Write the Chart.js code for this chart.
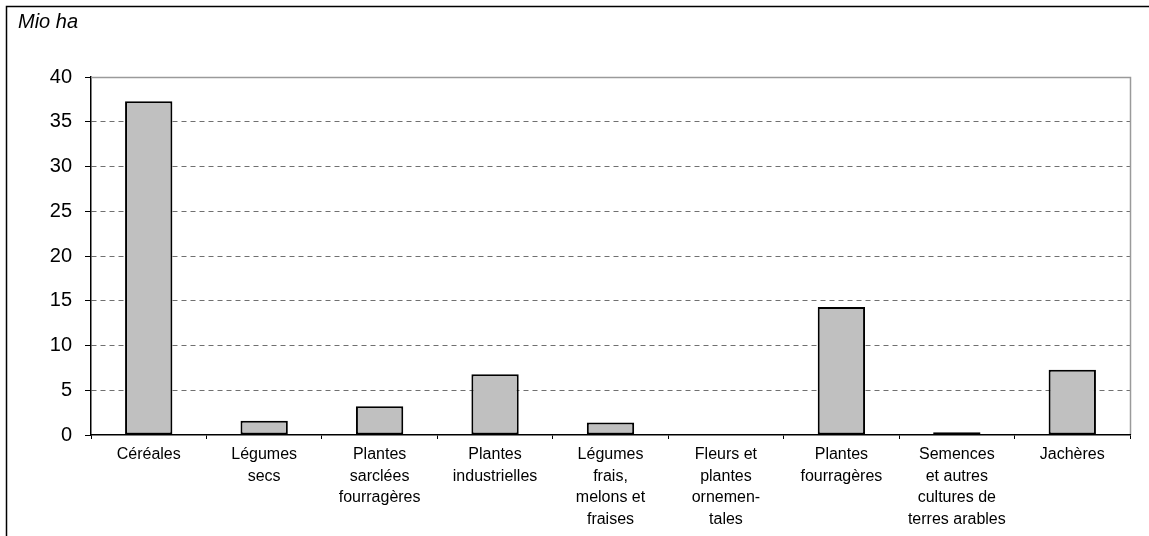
<!DOCTYPE html>
<html>
<head>
<meta charset="utf-8">
<script src="https://cdn.jsdelivr.net/npm/chart.js@4/dist/chart.umd.min.js"></script>
<style>
html,body{margin:0;padding:0;background:#fff;}
#wrap{width:1149px;height:536px;position:relative;}
</style>
</head>
<body>
<div id="wrap"><canvas id="c" width="1149" height="536"></canvas></div>
<script>
const categories = [
  ["Céréales"],
  ["Légumes", "secs"],
  ["Plantes", "sarclées", "fourragères"],
  ["Plantes", "industrielles"],
  ["Légumes", "frais,", "melons et", "fraises"],
  ["Fleurs et", "plantes", "ornemen-", "tales"],
  ["Plantes", "fourragères"],
  ["Semences", "et autres", "cultures de", "terres arables"],
  ["Jachères"]
];
const values = [37.3, 1.6, 3.2, 6.8, 1.4, 0, 14.3, 0.3, 7.3];
const yTicks = [0, 5, 10, 15, 20, 25, 30, 35, 40];
const unitLabel = "Mio ha";

const framePlugin = {
  id: 'frame',
  beforeDraw(chart) {
    const ctx = chart.ctx;
    ctx.save();
    ctx.fillStyle = '#fff';
    ctx.fillRect(0, 0, chart.width, chart.height);
    ctx.strokeStyle = '#000';
    ctx.lineWidth = 1.5;
    ctx.beginPath();
    ctx.moveTo(6.5, chart.height + 5);
    ctx.lineTo(6.5, 6.5);
    ctx.lineTo(chart.width + 5, 6.5);
    ctx.stroke();
    ctx.font = 'italic 20px "Liberation Sans", Arial, sans-serif';
    ctx.fillStyle = '#000';
    ctx.textBaseline = 'alphabetic';
    ctx.fillText(unitLabel, 18, 28);
    ctx.restore();
  },
  afterDatasetsDraw(chart) {
    const a = chart.chartArea;
    const ctx = chart.ctx;
    ctx.save();
    ctx.strokeStyle = '#9a9a9a';
    ctx.lineWidth = 1.5;
    ctx.beginPath();
    ctx.moveTo(a.left, Math.round(a.top) + 0.5);
    ctx.lineTo(Math.round(a.right) + 0.5, Math.round(a.top) + 0.5);
    ctx.lineTo(Math.round(a.right) + 0.5, a.bottom);
    ctx.stroke();
    ctx.restore();
  }
};

new Chart(document.getElementById('c'), {
  type: 'bar',
  data: {
    labels: categories,
    datasets: [{
      data: values,
      backgroundColor: '#C0C0C0',
      borderColor: '#000',
      borderWidth: 2,
      borderSkipped: false,
      barPercentage: 0.41,
      categoryPercentage: 1
    }]
  },
  options: {
    responsive: false,
    animation: false,
    devicePixelRatio: 1,
    layout: { padding: { left: 0, top: 77, right: 19, bottom: 0 } },
    plugins: { legend: { display: false }, tooltip: { enabled: false } },
    scales: {
      x: {
        grid: { display: true, drawOnChartArea: false, offset: true, tickLength: 4, tickColor: '#000', color: '#000' },
        border: { display: true, color: '#000', width: 1.5, z: 1 },
        ticks: {
          color: '#000',
          font: { family: '"Liberation Sans", Arial, sans-serif', size: 16, lineHeight: 1.35 },
          padding: 5,
          maxRotation: 0,
          autoSkip: false
        },
        afterFit(scale) { scale.height = 101; }
      },
      y: {
        min: 0, max: 40,
        afterBuildTicks(scale) { scale.ticks = yTicks.map(v => ({ value: v })); },
        grid: {
          color: (c) => (c.tick && c.tick.value === 0) ? 'rgba(0,0,0,0)' : '#707070',
          lineWidth: 1,
          tickLength: 6,
          tickColor: '#000',
          tickBorderDash: []
        },
        border: { display: true, color: '#000', width: 1.5, dash: [5, 4] },
        ticks: {
          color: '#000',
          font: { family: '"Liberation Sans", Arial, sans-serif', size: 20 },
          padding: 13
        },
        afterFit(scale) { scale.width = 91; }
      }
    }
  },
  plugins: [framePlugin]
});
</script>
</body>
</html>
